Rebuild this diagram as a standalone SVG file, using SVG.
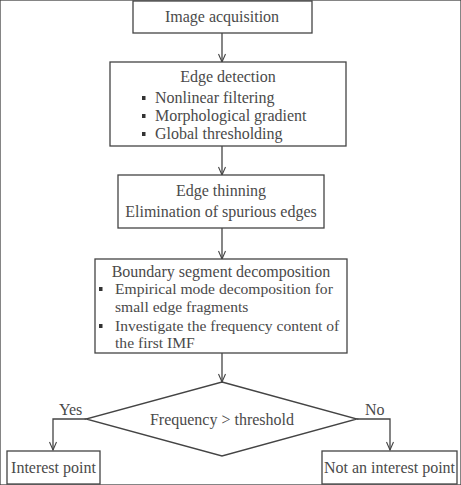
<svg xmlns="http://www.w3.org/2000/svg" width="461" height="485" viewBox="0 0 461 485">
<defs>
<marker id="arr" markerWidth="10" markerHeight="8" refX="9" refY="4" orient="auto" markerUnits="userSpaceOnUse">
<path d="M1,0.5 L9,4 L1,7.5" fill="none" stroke="#444" stroke-width="1.1"/>
</marker>
<style>
rect, polygon { fill: #fff; stroke: #444; stroke-width: 1.3; }
rect.bul { fill: #333; stroke: none; }
.c { fill: none; stroke: #444; stroke-width: 1.3; marker-end: url(#arr); }
text { font-family: "Liberation Serif", "Times New Roman", serif; font-size: 16px; fill: #4a4a4a; }
.m { text-anchor: middle; }
.s { font-size: 15.6px; }
</style>
</defs>
<rect width="461" height="485" fill="#fff" stroke="none"/>
<g id="connectors">
<path class="c" d="M222,33 V62"/>
<path class="c" d="M222,146 V175"/>
<path class="c" d="M222,228 V259"/>
<path class="c" d="M222,353 V382"/>
<path class="c" d="M86,419 H53 V450"/>
<path class="c" d="M357,419 H390 V450"/>
</g>
<g id="n1">
<rect x="133" y="1" width="179" height="32"/>
<text class="m" x="222" y="22">Image acquisition</text>
</g>
<g id="n2">
<rect x="110" y="62" width="236" height="84"/>
<text class="m" x="228" y="82">Edge detection</text>
<rect class="bul" x="142" y="96" width="3.500" height="4"/>
<text x="155" y="103">Nonlinear filtering</text>
<rect class="bul" x="142" y="114" width="3.500" height="4"/>
<text x="155" y="121">Morphological gradient</text>
<rect class="bul" x="142" y="132" width="3.500" height="4"/>
<text x="155" y="139">Global thresholding</text>
</g>
<g id="n3">
<rect x="118" y="175" width="206" height="53"/>
<text class="m" x="221" y="196">Edge thinning</text>
<text class="m" x="221" y="217">Elimination of spurious edges</text>
</g>
<g id="n4">
<rect x="95" y="259" width="252" height="94"/>
<text class="m" x="221" y="277">Boundary segment decomposition</text>
<rect class="bul" x="99" y="287" width="3.500" height="4"/>
<text class="s" x="115" y="294">Empirical mode decomposition for</text>
<text class="s" x="115" y="312">small edge fragments</text>
<rect class="bul" x="99" y="324" width="3.500" height="4"/>
<text class="s" x="115" y="331">Investigate the frequency content of</text>
<text class="s" x="115" y="348">the first IMF</text>
</g>
<g id="n5">
<polygon points="222,382 357,419 222,456 86,419"/>
<text class="m" x="222" y="425">Frequency &gt; threshold</text>
</g>
<g id="lbl">
<text x="59" y="415">Yes</text>
<text x="365" y="415">No</text>
</g>
<g id="n6">
<rect x="7" y="451" width="93" height="33"/>
<text class="m" x="53.500" y="473">Interest point</text>
</g>
<g id="n7">
<rect x="322" y="451" width="135" height="33"/>
<text class="m" x="389.500" y="473">Not an interest point</text>
</g>
</svg>
